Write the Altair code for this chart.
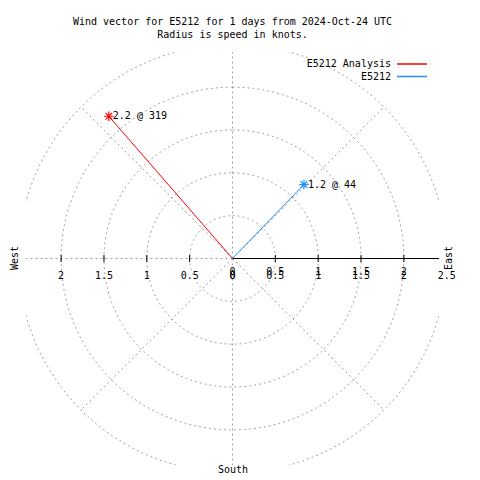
import numpy as np
import pandas as pd
import altair as alt

# ---- data ----
series = ["E5212 Analysis", "E5212"]
speeds = [2.2, 1.2]
directions = [319, 44]
series_colors = ["#ff0000", "#1e90ff"]

grid_radii = [0.5, 1.0, 1.5, 2.0, 2.5]
spoke_angles = [0, 45, 90, 135, 180, 225, 270, 315]
tick_values = [-2.0, -1.5, -1.0, -0.5, 0.5, 1.0, 1.5, 2.0]
left_label_pos = [-2.0, -1.5, -1.0, -0.5, 0.0]
left_label_text = ["2", "1.5", "1", "0.5", "0"]
right_a_pos = [0.0, 0.5, 1.0, 1.5, 2.0]
right_a_text = ["0", "0.5", "1", "1.5", "2"]
right_b_pos = [0.0, 0.5, 1.0, 1.5, 2.0, 2.5]
right_b_text = ["0", "0.5", "1", "1.5", "2", "2.5"]
title_lines = ["Wind vector for E5212 for 1 days from 2024-Oct-24 UTC",
               "Radius is speed in knots."]

RMAX = 2.41
FONT = "DejaVu Sans Mono"

xs = alt.Scale(domain=[-RMAX, RMAX], nice=False, zero=False)
ys = alt.Scale(domain=[-RMAX, RMAX], nice=False, zero=False)

# vectors
rad = np.radians(directions)
vec = pd.DataFrame({
    "series": series,
    "speed": speeds,
    "dir": directions,
    "x0": 0.0,
    "y0": 0.0,
    "x": np.array(speeds) * np.sin(rad),
    "y": np.array(speeds) * np.cos(rad),
})
vec["label"] = [f"{s} @ {d}" for s, d in zip(speeds, directions)]

# grid circles
th = np.linspace(0, 2 * np.pi, 361)
circ = pd.concat([
    pd.DataFrame({"ring": r, "i": np.arange(len(th)), "x": r * np.sin(th), "y": r * np.cos(th)})
    for r in grid_radii
])

# spokes
sa = np.radians(spoke_angles)
spokes = pd.DataFrame({
    "a": spoke_angles,
    "x0": 0.0, "y0": 0.0,
    "x": max(grid_radii) * np.sin(sa),
    "y": max(grid_radii) * np.cos(sa),
})

ticks = pd.DataFrame({"x": tick_values, "y": 0.0})
lab_left = pd.DataFrame({"x": left_label_pos, "t": left_label_text})
lab_a = pd.DataFrame({"x": right_a_pos, "t": right_a_text})
lab_b = pd.DataFrame({"x": right_b_pos, "t": right_b_text})
axis_df = pd.DataFrame({"x0": [0.0], "x1": [RMAX], "y": [0.0]})

X = lambda f: alt.X(f, type="quantitative", scale=xs, axis=None)
Y = lambda f: alt.Y(f, type="quantitative", scale=ys, axis=None)

grid = alt.Chart(circ).mark_line(
    stroke="#a0a0a0", strokeWidth=1, strokeDash=[2, 3], clip=True
).encode(x=X("x"), y=Y("y"), detail="ring:N", order="i:Q")

spk = alt.Chart(spokes).mark_rule(
    stroke="#a0a0a0", strokeWidth=1, strokeDash=[2, 3], clip=True
).encode(x=X("x0"), y=Y("y0"), x2="x", y2="y")

axis_line = alt.Chart(axis_df).mark_rule(color="black", strokeWidth=1).encode(
    x=X("x0"), x2="x1", y=Y("y"))

tk = alt.Chart(ticks).mark_point(
    shape="M0,-1L0,1", size=49, filled=False, stroke="black", strokeWidth=1, opacity=1
).encode(x=X("x"), y=Y("y"))

def labels(df, dy):
    return alt.Chart(df).mark_text(
        font=FONT, fontSize=10, color="black", align="center", baseline="middle", dy=dy
    ).encode(x=X("x"), y=alt.Y(datum=0, scale=ys, axis=None), text="t:N")

color = alt.Color("series:N", scale=alt.Scale(domain=series, range=series_colors),
                  legend=alt.Legend(title=None, orient="none", legendX=380,
                                    legendY=6,
                                    symbolType="M-3,0L3,0", symbolSize=100,
                                    symbolStrokeWidth=1.5, labelAlign="right",
                                    labelOffset={"expr": "-27"}, labelFont=FONT, labelFontSize=10,
                                    labelColor="black", rowPadding=1.5, padding=0))

vectors = alt.Chart(vec).mark_rule(strokeWidth=1).encode(
    x=X("x0"), y=Y("y0"), x2="x", y2="y", color=color)

ast = "M-1,0L1,0M0,-1L0,1M-0.7,-0.7L0.7,0.7M-0.7,0.7L0.7,-0.7"
markers = alt.Chart(vec).mark_point(shape=ast, size=90, filled=False, strokeWidth=1.2, opacity=1).encode(
    x=X("x"), y=Y("y"), color=alt.Color("series:N", scale=alt.Scale(domain=series, range=series_colors), legend=None))

vlabels = alt.Chart(vec).mark_text(
    font=FONT, fontSize=10, color="black", align="left", baseline="middle", dx=4
).encode(x=X("x"), y=Y("y"), text="label:N")

compass = pd.DataFrame({"t": ["West", "East", "South"]})
west = alt.Chart(compass).transform_filter(alt.datum.t == "West").mark_text(
    font=FONT, fontSize=10, color="black", angle=270, align="center", baseline="middle"
).encode(x=alt.value(-11), y=alt.value(206), text="t:N")
east = alt.Chart(compass).transform_filter(alt.datum.t == "East").mark_text(
    font=FONT, fontSize=10, color="black", angle=270, align="center", baseline="middle"
).encode(x=alt.value(423), y=alt.value(206), text="t:N")
south = alt.Chart(compass).transform_filter(alt.datum.t == "South").mark_text(
    font=FONT, fontSize=10, color="black", align="center", baseline="middle"
).encode(x=alt.value(207), y=alt.value(418), text="t:N")

chart = alt.layer(
    grid, spk, axis_line, tk,
    labels(lab_left, 17), labels(lab_a, 13), labels(lab_b, 17),
    vectors, markers, vlabels, west, east, south
).properties(
    width=413, height=413,
    autosize=alt.AutoSizeParams(type="none"),
    padding={"left": 18, "top": 44, "right": 30, "bottom": 12},
    title=alt.TitleParams(text=title_lines, font=FONT, fontSize=10, fontWeight="normal",
                          color="black", anchor="middle", offset=12, lineHeight=13),
).configure_view(stroke=None)

chart.save("out.html", embed_options={"renderer": "svg", "actions": False})
